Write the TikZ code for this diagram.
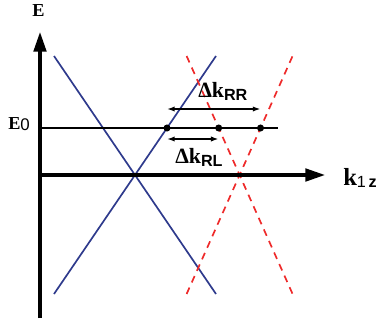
\documentclass[tikz,border=0pt]{standalone}
\usepackage{fontspec}
\setmainfont{Liberation Serif}
\setsansfont{Liberation Sans}
\usepackage{tikz}
\usetikzlibrary{arrows.meta,positioning,calc}
\definecolor{bandblue}{HTML}{2E3A8C}
\definecolor{bandred}{HTML}{EE2A2A}

\begin{document}
\begin{tikzpicture}
  \useasboundingbox (-1,-3.675) rectangle (8.475,4.375);
  \tikzset{
    axis/.style={line width=2.2pt,-{Triangle[length=14pt,width=9pt]}},
    level/.style={line width=1.6pt},
    blueband/.style={bandblue,line width=1.2pt},
    redband/.style={bandred,line width=1.2pt,dash pattern=on 5pt off 4pt},
    gaparrow/.style={line width=1.4pt,{Latex[length=5.5pt,width=3.8pt]}-{Latex[length=5.5pt,width=3.8pt]}},
    dot/.style={circle,fill=black,inner sep=0pt,minimum size=5pt},
    lbl/.style={inner sep=0pt,anchor=base west}
  }
  % the two crossings, solid and dashed
  \foreach \cx/\hw/\st in {2.375/2.025/blueband, 4.99/1.325/redband}
  {
    \draw[\st] (\cx-\hw,2.975) -- (\cx+\hw,-2.975);
    \draw[\st] (\cx-\hw,-2.975) -- (\cx+\hw,2.975);
  }
  % axes
  \coordinate (o) at (0,0);
  \coordinate (ybot) at (0,-3.575);
  \coordinate (ytop) at (0,3.575);
  \coordinate (xend) at (7.125,0);
  \draw[axis] (ybot) -- (ytop);
  \draw[axis] (o) -- (xend);
  \node[lbl,font=\fontsize{13}{16}\selectfont\bfseries] (elab) at (-0.2,3.95) {E};
  \node[lbl,font=\fontsize{17.5}{20}\selectfont\bfseries] (klab) at (7.575,-0.25)
    {k\raisebox{-0.25ex}{\fontsize{11.5}{12}\selectfont\sffamily\mdseries 1\,\bfseries z}};
  % energy level
  \coordinate (e0l) at (0,1.175);
  \coordinate (e0r) at (5.95,1.175);
  \draw[level] (e0l) -- (e0r);
  \node[lbl,font=\fontsize{13}{16}\selectfont\bfseries] (e0lab) at (-0.8,1.15)
    {E\raisebox{-0.2ex}{\fontsize{12}{12}\selectfont\sffamily\mdseries 0}};
  \node[dot] (d1) at (3.175,1.175) {};
  \node[dot] (d2) at (4.467,1.175) {};
  \node[dot] (d3) at (5.513,1.175) {};
  % splittings
  \coordinate (rr1) at ($(d1)+(0,0.475)$);
  \coordinate (rr2) at ($(d3)+(0,0.475)$);
  \coordinate (rl1) at ($(d1)+(0,-0.275)$);
  \coordinate (rl2) at ($(d2)+(0,-0.275)$);
  \draw[gaparrow] (rr1) -- (rr2);
  \draw[gaparrow] (rl1) -- (rl2);
  \node[lbl,font=\fontsize{15.5}{18}\selectfont\bfseries] (rrlab) at (3.95,1.95)
    {Δk\raisebox{-0.3ex}{\fontsize{11.5}{12}\selectfont\sffamily RR}};
  \node[lbl,font=\fontsize{15.5}{18}\selectfont\bfseries] (rllab) at (3.375,0.3)
    {Δk\raisebox{-0.3ex}{\fontsize{11.5}{12}\selectfont\sffamily RL}};
\end{tikzpicture}
\end{document}
